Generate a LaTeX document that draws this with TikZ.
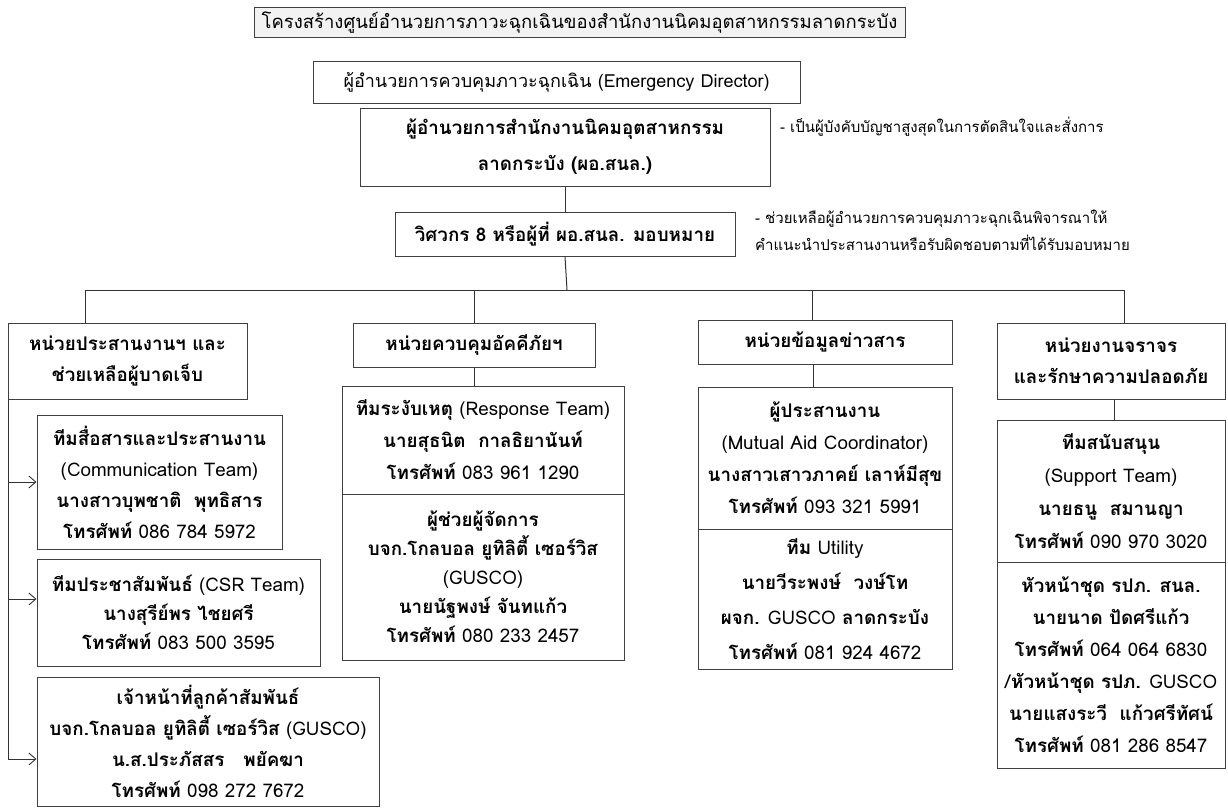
\documentclass[tikz,border=0pt]{standalone}
\usepackage{fontspec}
\setmainfont[Script=Thai]{Loma}
\usetikzlibrary{arrows.meta,calc}
\newcommand{\fsz}[2]{\fontsize{#1}{#2}\selectfont}
\begin{document}
\begin{tikzpicture}[x=1pt,y=-1pt,
  box/.style={draw=black!75, line width=1pt, align=center, inner sep=0pt, text=black},
  ln/.style={draw=black!80, line width=1pt},
  arr/.style={ln, -{Straight Barb[length=7pt,width=12pt,line width=0.9pt]}},
  note/.style={align=left, inner sep=0pt, font=\fsz{15}{27}}
]
\useasboundingbox (0,0) rectangle (1228,808);
% top
\node[box, fill=black!5, minimum width=651pt, minimum height=30pt, font=\fsz{18.5}{20}] (title) at (579.5,23) {โครงสร้างศูนย์อำนวยการภาวะฉุกเฉินของสำนักงานนิคมอุตสาหกรรมลาดกระบัง};
\node[box, minimum width=487pt, minimum height=41pt, font=\fsz{18}{20}] (ed) at (556.5,82.5) {ผู้อำนวยการควบคุมภาวะฉุกเฉิน (Emergency Director)};
\node[box, minimum width=410pt, minimum height=78pt, font=\fsz{18.8}{36}\bfseries] (dir) at (565,147) {ผู้อำนวยการสำนักงานนิคมอุตสาหกรรม\\ลาดกระบัง (ผอ.สนล.)};
\node[note, anchor=west] (n1) at (780,127) {- เป็นผู้บังคับบัญชาสูงสุดในการตัดสินใจและสั่งการ};
\node[box, minimum width=340pt, minimum height=44pt, font=\fsz{18.8}{20}\bfseries] (eng) at (565,234) {วิศวกร 8 หรือผู้ที่ ผอ.สนล. มอบหมาย};
\node[note, anchor=north west] (n2) at (755,210) {- ช่วยเหลือผู้อำนวยการควบคุมภาวะฉุกเฉินพิจารณาให้\\คำแนะนำประสานงานหรือรับผิดชอบตามที่ได้รับมอบหมาย};
% column headers
\node[box, minimum width=239pt, minimum height=76pt, font=\fsz{18.8}{31}\bfseries] (h1) at (127.5,361) {หน่วยประสานงานฯ และ\\ช่วยเหลือผู้บาดเจ็บ};
\node[box, minimum width=242pt, minimum height=44pt, font=\fsz{18.8}{20}\bfseries] (h2) at (474,345) {หน่วยควบคุมอัคคีภัยฯ};
\node[box, minimum width=254pt, minimum height=44pt, font=\fsz{18.8}{20}\bfseries] (h3) at (825,342) {หน่วยข้อมูลข่าวสาร};
\node[box, minimum width=228pt, minimum height=76pt, font=\fsz{18.8}{31}\bfseries] (h4) at (1111,361) {หน่วยงานจราจร\\และรักษาความปลอดภัย};
% column 1
\node[box, minimum width=245pt, minimum height=134pt, font=\fsz{18.8}{31}] (s1) at (159.5,482) {\textbf{ทีมสื่อสารและประสานงาน}\\(Communication Team)\\\textbf{นางสาวบุพชาติ\ \ พุทธิสาร}\\\textbf{โทรศัพท์} 086 784 5972};
\node[box, minimum width=283pt, minimum height=107pt, font=\fsz{18.8}{29}] (s2) at (178.5,612.5) {\textbf{ทีมประชาสัมพันธ์} (CSR Team)\\\textbf{นางสุรีย์พร ไชยศรี}\\\textbf{โทรศัพท์} 083 500 3595};
\node[box, minimum width=342pt, minimum height=129pt, font=\fsz{18.8}{31}] (s3) at (208,741.5) {\textbf{เจ้าหน้าที่ลูกค้าสัมพันธ์}\\\textbf{บจก.โกลบอล ยูทิลิตี้ เซอร์วิส} (GUSCO)\\\textbf{น.ส.ประภัสสร\ \ \ พยัคฆา}\\\textbf{โทรศัพท์} 098 272 7672};
% column 2
\node[box, minimum width=282pt, minimum height=108pt, font=\fsz{18.8}{32}] (t2a) at (483,440) {\textbf{ทีมระงับเหตุ} (Response Team)\\\textbf{นายสุธนิต\ \ กาลธิยานันท์}\\\textbf{โทรศัพท์} 083 961 1290};
\node[box, minimum width=282pt, minimum height=166pt, font=\fsz{18.8}{29}] (t2b) at (483,577) {\textbf{ผู้ช่วยผู้จัดการ}\\\textbf{บจก.โกลบอล ยูทิลิตี้ เซอร์วิส}\\(GUSCO)\\\textbf{นายนัฐพงษ์ จันทแก้ว}\\\textbf{โทรศัพท์} 080 233 2457};
% column 3
\node[box, minimum width=254pt, minimum height=142pt, font=\fsz{18.8}{32}] (t3a) at (825,458) {\textbf{ผู้ประสานงาน}\\(Mutual Aid Coordinator)\\\textbf{นางสาวเสาวภาคย์ เลาห์มีสุข}\\\textbf{โทรศัพท์} 093 321 5991};
\node[box, minimum width=254pt, minimum height=140pt, font=\fsz{18.8}{35}] (t3b) at (825,599) {\textbf{ทีม} Utility\\\textbf{นายวีระพงษ์\ \ วงษ์โท}\\\textbf{ผจก.} GUSCO \textbf{ลาดกระบัง}\\\textbf{โทรศัพท์} 081 924 4672};
% column 4
\node[box, minimum width=228pt, minimum height=142pt, font=\fsz{18.8}{33}] (t4a) at (1111,491) {\textbf{ทีมสนับสนุน}\\(Support Team)\\\textbf{นายธนู\ \ สมานญา}\\\textbf{โทรศัพท์} 090 970 3020};
\node[box, minimum width=228pt, minimum height=206pt, font=\fsz{18.8}{32}] (t4b) at (1111,665) {\textbf{หัวหน้าชุด รปภ. สนล.}\\\textbf{นายนาด ปัดศรีแก้ว}\\\textbf{โทรศัพท์} 064 064 6830\\/\textbf{หัวหน้าชุด รปภ.} GUSCO\\\textbf{นายแสงระวี\ \ แก้วศรีทัศน์}\\\textbf{โทรศัพท์} 081 286 8547};
% connectors
\coordinate (bus) at (567,290);
\draw[ln] (dir.south) -- (eng.north);
\draw[ln] (eng.south) -- (bus);
\draw[ln] (bus) -| (h1.north -| 85,0);
\draw[ln] (bus) -| (h4.north -| 1124,0);
\draw[ln] (474,290) -- (h2.north);
\draw[ln] (812,290) -- (h3.north -| 812,0);
\draw[ln] (h2.south) -- (h2.south |- t2a.north);
\draw[ln] (h3.south -| 813,0) -- (t3a.north -| 813,0);
\draw[ln] (h4.south -| 1114,0) -- (t4a.north -| 1114,0);
\draw[arr] ($(h1.south west)+(1,0)$) |- (s1.west);
\draw[arr] ($(h1.south west)+(1,0)$) |- (s2.west |- 0,599);
\draw[arr] ($(h1.south west)+(1,0)$) |- (s3.west |- 0,759);
\end{tikzpicture}
\end{document}
